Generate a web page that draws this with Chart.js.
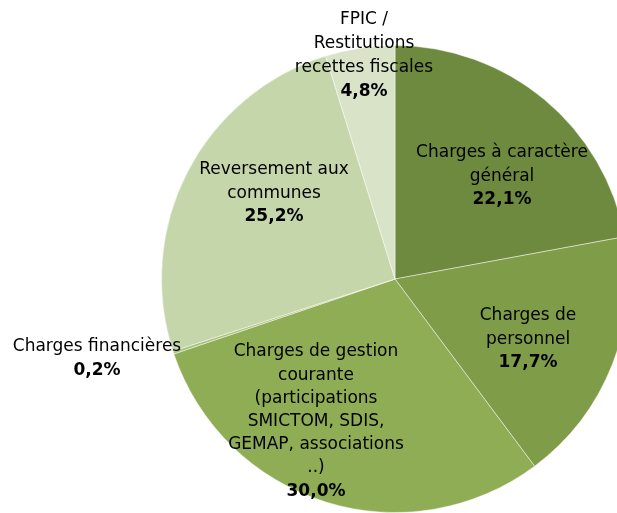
<!DOCTYPE html>
<html>
<head>
<meta charset="utf-8">
<script src="https://cdn.jsdelivr.net/npm/chart.js@4/dist/chart.umd.min.js"></script>
<style>
html,body{margin:0;padding:0;background:#fff;overflow:hidden;width:617px;height:513px;}
#wrap{position:relative;width:790px;height:513px;}
</style>
</head>
<body>
<div id="wrap"><canvas id="c"></canvas></div>
<script>
const categories = [
  ["Charges à caractère", "général"],
  ["Charges de", "personnel"],
  ["Charges de gestion", "courante", "(participations", "SMICTOM, SDIS,", "GEMAP, associations", "..)"],
  ["Charges financières"],
  ["Reversement aux", "communes"],
  ["FPIC /", "Restitutions", "recettes fiscales"]
];
const values = [22.1, 17.7, 30.0, 0.2, 25.2, 4.8];
const percentLabels = ["22,1%", "17,7%", "30,0%", "0,2%", "25,2%", "4,8%"];
const colors = ["#6e8a3e", "#7f9c49", "#8fad55", "#a9c27c", "#c6d6ab", "#d9e3c8"];

// label anchor positions (centre x, first-line y, line height) in canvas pixels
const labelPos = [[502, 153, 23.2], [528, 316, 23.2], [316, 352, 23.2], [97, 347, 23.2], [274, 170, 23.2], [364, 20, 24]];

const labelPlugin = {
  id: 'labels',
  afterDatasetsDraw(chart) {
    const ctx = chart.ctx;
    ctx.save();
    ctx.textAlign = 'center';
    ctx.textBaseline = 'middle';
    ctx.fillStyle = '#000';
    categories.forEach((lines, i) => {
      const [x, y, lh] = labelPos[i];
      ctx.font = '17px "DejaVu Sans"';
      lines.forEach((t, j) => ctx.fillText(t, x, y + j * lh));
      ctx.font = 'bold 17px "DejaVu Sans"';
      ctx.fillText(percentLabels[i], x, y + lines.length * lh);
    });
    ctx.restore();
  }
};

new Chart(document.getElementById('c'), {
  type: 'pie',
  data: {
    labels: categories.map(l => l.join(' ')),
    datasets: [{
      data: values,
      backgroundColor: colors,
      borderColor: 'rgba(255,255,255,0.45)',
      borderWidth: 1
    }]
  },
  options: {
    responsive: true,
    maintainAspectRatio: false,
    animation: false,
    layout: { padding: { top: 45, left: 0, right: 0, bottom: 0 } },
    plugins: { legend: { display: false }, tooltip: { enabled: false } }
  },
  plugins: [labelPlugin]
});
</script>
</body>
</html>
